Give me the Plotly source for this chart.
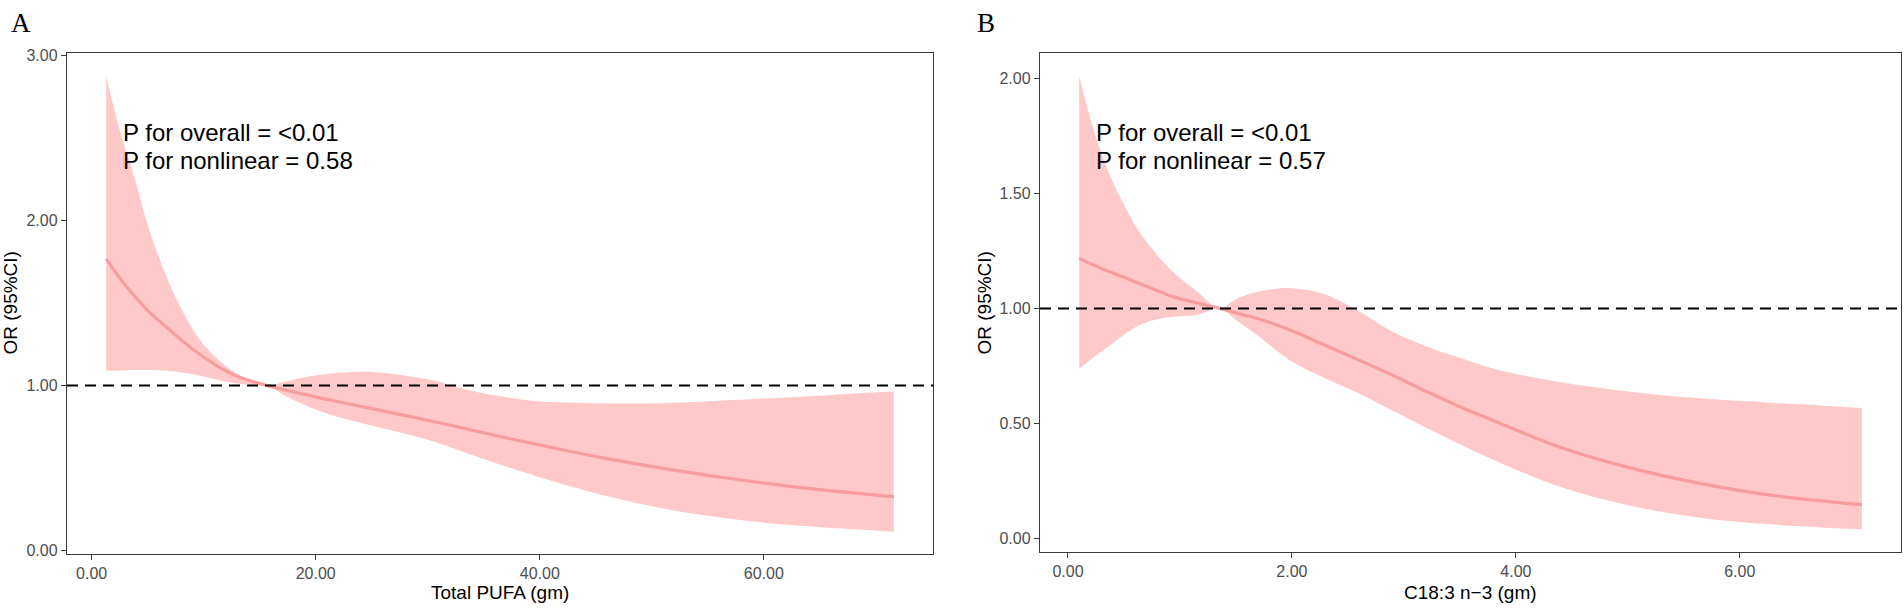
import plotly.graph_objects as go

# ---------------- Data ----------------
# Panel A: Total PUFA (gm)
a_x = [1.3, 2.5, 3.8, 5.2, 6.75, 8.2, 9.7, 11.2, 12.7, 14.2, 15.7, 17.1, 18.6, 20.1,
       21.6, 24.9, 27.6, 30.6, 33.5, 36.5, 39.5, 45.4, 51.4, 57.3, 63.3, 71.6]
a_hi = [2.875, 2.55, 2.264, 1.93, 1.649, 1.44, 1.274, 1.165, 1.083, 1.03, 1.0, 1.02, 1.044, 1.062,
        1.075, 1.083, 1.065, 1.03, 0.975, 0.935, 0.907, 0.893, 0.895, 0.913, 0.933, 0.966]
a_mid = [1.768, 1.652, 1.545, 1.442, 1.351, 1.265, 1.187, 1.12, 1.065, 1.028, 1.0, 0.976, 0.953, 0.93,
         0.908, 0.862, 0.824, 0.781, 0.737, 0.691, 0.647, 0.565, 0.494, 0.434, 0.382, 0.327]
a_lo = [1.089, 1.092, 1.094, 1.095, 1.09, 1.078, 1.06, 1.035, 1.016, 1.005, 1.0, 0.945, 0.895, 0.852,
        0.818, 0.76, 0.715, 0.66, 0.59, 0.52, 0.455, 0.34, 0.25, 0.19, 0.15, 0.115]

# Panel B: C18:3 n-3 (gm)
b_x = [0.10, 0.22, 0.345, 0.5, 0.643, 0.8, 0.94, 1.15, 1.357, 1.5, 1.685, 1.98, 2.28,
       2.58, 2.875, 3.2, 3.5, 3.83, 4.42, 5.02, 5.61, 6.21, 7.09]
b_hi = [2.009, 1.79, 1.613, 1.45, 1.328, 1.23, 1.157, 1.075, 1.0, 1.04, 1.071, 1.088, 1.064,
        0.993, 0.905, 0.835, 0.786, 0.735, 0.678, 0.638, 0.611, 0.593, 0.568]
b_mid = [1.217, 1.19, 1.164, 1.135, 1.107, 1.077, 1.05, 1.024, 1.0, 0.98, 0.957, 0.907, 0.843,
         0.78, 0.715, 0.64, 0.573, 0.507, 0.393, 0.308, 0.244, 0.194, 0.148]
b_lo = [0.737, 0.785, 0.829, 0.885, 0.929, 0.953, 0.964, 0.971, 1.0, 0.95, 0.886, 0.775, 0.70,
        0.635, 0.562, 0.482, 0.41, 0.336, 0.222, 0.144, 0.094, 0.065, 0.041]

a_xticks = [0, 20, 40, 60]
a_yticks = [0, 1, 2, 3]
b_xticks = [0, 2, 4, 6]
b_yticks = [0, 0.5, 1, 1.5, 2]

a_xtitle = "Total PUFA (gm)"
b_xtitle = "C18:3 n\u22123 (gm)"
ytitle = "OR (95%CI)"
a_text = ["P for overall = <0.01", "P for nonlinear = 0.58"]
b_text = ["P for overall = <0.01", "P for nonlinear = 0.57"]

# ---------------- Styles ----------------
W, H = 1904, 608
BAND = "#FFC9C9"
LINE = "#F99C9C"
SANS = "Liberation Sans, Arial, sans-serif"
SERIF = "Liberation Serif, Times New Roman, serif"
SMOOTH = 1.0

fig = go.Figure()

def add_panel(x, lo, mid, hi, xa, ya):
    fig.add_trace(go.Scatter(x=x, y=lo, mode="lines",
                             line=dict(width=0, color=BAND, shape="spline", smoothing=SMOOTH),
                             xaxis=xa, yaxis=ya, showlegend=False, hoverinfo="skip"))
    fig.add_trace(go.Scatter(x=x, y=hi, mode="lines",
                             line=dict(width=0, color=BAND, shape="spline", smoothing=SMOOTH),
                             fill="tonexty", fillcolor=BAND, xaxis=xa, yaxis=ya,
                             showlegend=False, hoverinfo="skip"))
    fig.add_trace(go.Scatter(x=x, y=mid, mode="lines",
                             line=dict(width=3.2, color=LINE, shape="spline", smoothing=SMOOTH),
                             xaxis=xa, yaxis=ya, showlegend=False))

add_panel(a_x, a_lo, a_mid, a_hi, "x", "y")
add_panel(b_x, b_lo, b_mid, b_hi, "x2", "y2")

# reference line OR = 1
for xr, yr in (("x domain", "y"), ("x2 domain", "y2")):
    fig.add_shape(type="line", xref=xr, yref=yr, x0=0, x1=1, y0=1, y1=1,
                  line=dict(color="black", width=2, dash="11px,7px"), layer="above")

axis_common = dict(showgrid=False, zeroline=False, showline=True, mirror=True,
                   linecolor="#3A3A3A", linewidth=1.4, ticks="outside", ticklen=5,
                   tickwidth=1.4, tickcolor="#3A3A3A", tickformat=".2f",
                   tickfont=dict(family=SANS, size=16, color="#4D4D4D"))

fig.update_layout(
    width=W, height=H, margin=dict(l=0, r=0, t=0, b=0),
    paper_bgcolor="white", plot_bgcolor="white", showlegend=False,
    xaxis=dict(domain=[67 / W, 933 / W], range=[-2.2, 75.1], tickvals=a_xticks, anchor="y", **axis_common),
    yaxis=dict(domain=[50 / H, 560 / H], range=[-0.02, 3.015], tickvals=a_yticks, anchor="x", **axis_common),
    xaxis2=dict(domain=[1040 / W, 1901 / W], range=[-0.25, 7.44], tickvals=b_xticks, anchor="y2", **axis_common),
    yaxis2=dict(domain=[52 / H, 560 / H], range=[-0.057, 2.108], tickvals=b_yticks, anchor="x2", **axis_common),
)

ann = []
# panel letters
ann.append(dict(text="A", x=9 / W, y=1 - 17 / H, xref="paper", yref="paper", xanchor="left", yanchor="middle",
                showarrow=False, font=dict(family=SERIF, size=27, color="black")))
ann.append(dict(text="B", x=975 / W, y=1 - 17 / H, xref="paper", yref="paper", xanchor="left", yanchor="middle",
                showarrow=False, font=dict(family=SERIF, size=27, color="black")))
# y titles
for xp in (11, 985):
    ann.append(dict(text=ytitle, x=xp / W, y=1 - 303 / H, xref="paper", yref="paper", textangle=-90,
                    xanchor="center", yanchor="middle", showarrow=False,
                    font=dict(family=SANS, size=19, color="black")))
# x titles
for xp, t in ((500, a_xtitle), (1470.5, b_xtitle)):
    ann.append(dict(text=t, x=xp / W, y=1 - 585 / H, xref="paper", yref="paper",
                    xanchor="center", yanchor="top", showarrow=False,
                    font=dict(family=SANS, size=19, color="black")))
# p-value texts
for xp, lines in ((121, a_text), (1094, b_text)):
    for i, t in enumerate(lines):
        ann.append(dict(text=t, x=xp / W, y=1 - (113 + 28.5 * i) / H, xref="paper", yref="paper",
                        xanchor="left", yanchor="top", showarrow=False,
                        font=dict(family=SANS, size=24, color="black")))
fig.update_layout(annotations=ann)

fig.write_html(
    "out.html",
    config={"displayModeBar": False},
    post_script="document.body.style.margin='0';document.body.style.padding='0';"
                "document.body.style.overflow='hidden';",
)
